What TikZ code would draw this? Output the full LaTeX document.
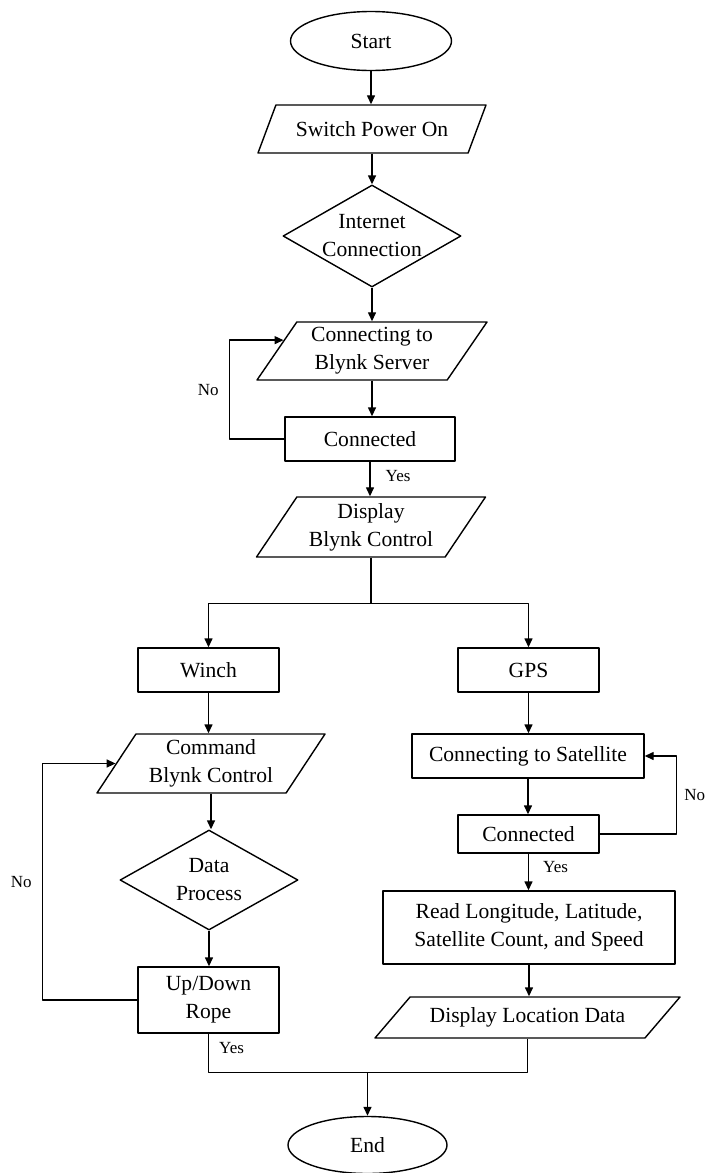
\documentclass[tikz,border=0pt]{standalone}
\usepackage{fontspec}
\setmainfont{Liberation Serif}
\usetikzlibrary{shapes.geometric,arrows.meta}
\begin{document}
\begin{tikzpicture}[x=0.5pt, y=-0.5pt, font=\fontsize{10.8}{14}\selectfont, line width=0.7pt, line join=round, >={Triangle[length=4.5pt,width=4pt]},
    term/.style={draw, ellipse, inner sep=0pt},
    proc/.style={draw, rectangle, align=center, inner sep=2pt},
    io/.style={draw, trapezium, trapezium stretches body, trapezium left angle=#1, trapezium right angle={\the\numexpr180-#1\relax}, align=center, inner xsep=0pt, inner ysep=1pt},
    io/.default=52,
    dec/.style={draw, diamond, aspect=1.75, inner sep=-2pt, align=center},
    lbl/.style={font=\fontsize{8.5}{10}\selectfont, inner sep=1pt}]
    \useasboundingbox (0,0) rectangle (705,1173);
    \node[term, minimum width=80.5pt, minimum height=29.5pt] (start) at (371,41) {Start};
    \node[io=47, minimum width=114pt, minimum height=24pt] (power) at (372,129) {Switch Power On};
    \node[dec, minimum width=89pt, minimum height=51pt] (inet) at (372,236) {Internet\\Connection};
    \node[io=52, minimum width=115pt, minimum height=29pt] (blynk) at (372,351) {Connecting to\\Blynk Server};
    \node[proc, minimum width=85pt, minimum height=22pt] (conn1) at (370,439) {Connected};
    \node[io=52, minimum width=114.5pt, minimum height=30pt] (dispb) at (371,527) {Display\\Blynk Control};
    \node[proc, minimum width=70.5pt, minimum height=22pt] (winch) at (208.5,670) {Winch};
    \node[proc, minimum width=70.5pt, minimum height=22pt] (gps) at (528.5,670) {GPS};
    \node[io=53, minimum width=114pt, minimum height=29.5pt] (cmd) at (211,763.5) {Command\\Blynk Control};
    \node[dec, minimum width=89pt, minimum height=50pt] (dp) at (209,880) {Data\\Process};
    \node[proc, minimum width=70.5pt, minimum height=33pt] (rope) at (208.5,1000) {Up/Down\\Rope};
    \node[proc, minimum width=116pt, minimum height=22pt] (sat) at (528,756) {Connecting to Satellite};
    \node[proc, minimum width=70.5pt, minimum height=19pt] (conn2) at (528.5,834) {Connected};
    \node[proc, minimum width=146pt, minimum height=36.5pt] (read) at (529,927.5) {Read Longitude, Latitude,\\Satellite Count, and Speed};
    \node[io=34, inner xsep=-5pt, minimum width=152.5pt, minimum height=20.5pt] (dloc) at (527.5,1017.5) {Display Location Data};
    \node[term, minimum width=79.5pt, minimum height=28.5pt] (end) at (367.5,1145) {End};
    \foreach \a/\b in {start/power, power/inet, inet/blynk, blynk/conn1, winch/cmd, cmd/dp, dp/rope, gps/sat, sat/conn2, read/dloc}
        \draw[->] (\a.south) -- (\a.south |- \b.north);
    \draw[->] (conn1.south) -- node[lbl, right=6.5pt, pos=0.42] {Yes} (conn1.south |- dispb.north);
    \draw[->] (conn1.west) -- ++(-55,0) |- node[lbl, left=4pt, pos=0.25] {No} (blynk.173);
    \draw[->] (dispb.south) -- ++(0,46) coordinate (split) -| (winch);
    \draw[->] (split) -| (gps);
    \draw[->] (rope.west) -- ++(-95,0) |- node[lbl, left=4pt, pos=0.25] {No} (cmd);
    \draw[->] (conn2.east) -- ++(77,0) |- node[lbl, right=2.5pt, pos=0.25] {No} (sat);
    \draw[->] (conn2.south) -- node[lbl, right=6pt, pos=0.37] {Yes} (conn2.south |- read.north);
    \draw (rope.south) -- node[lbl, right=4pt, pos=0.36] {Yes} ++(0,39) coordinate (merge) -| (dloc.south);
    \draw[->] (end |- merge) -- (end);
\end{tikzpicture}
\end{document}
